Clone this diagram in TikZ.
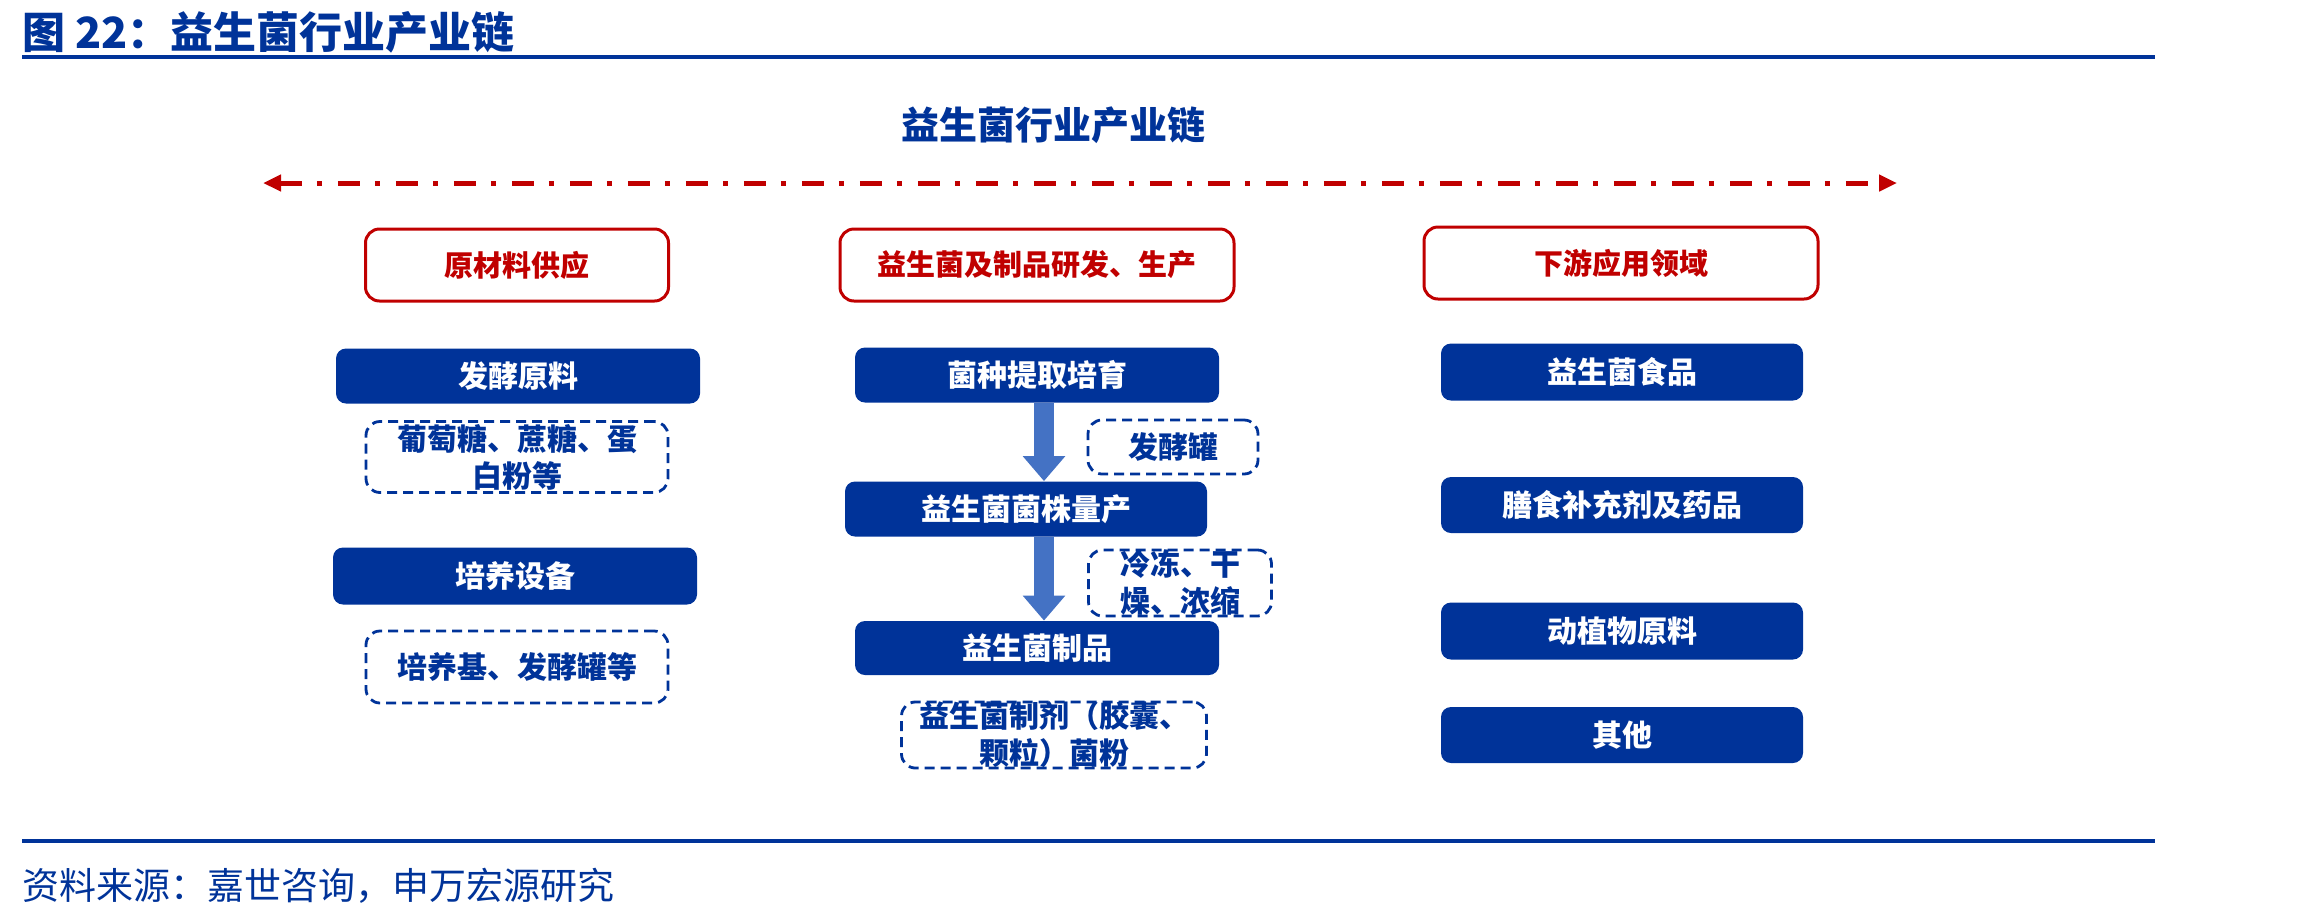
\documentclass[tikz,border=0pt]{standalone}
\usepackage{fontspec}
\setmainfont{Noto Sans CJK SC}
\usetikzlibrary{arrows.meta,calc}
\definecolor{myblue}{RGB}{0,51,153}
\definecolor{myred}{RGB}{192,0,0}
\definecolor{arrblue}{RGB}{68,114,196}
\tikzset{
  bluebox/.style={fill=myblue, rounded corners=5pt, text=white, font=\bfseries\fontsize{15}{18}\selectfont, minimum width=182pt, minimum height=27.5pt, inner sep=0pt},
  hdrbox/.style={draw=myred, line width=1.5pt, rounded corners=7pt, text=myred, font=\bfseries\fontsize{14.5}{17}\selectfont, minimum height=36pt, inner sep=0pt},
  dashbox/.style={draw=myblue, line width=1.4pt, dash pattern=on 5pt off 3pt, rounded corners=7pt, text=myblue, font=\bfseries\fontsize{15}{18.5}\selectfont, align=center, inner sep=0pt},
  blockarrow/.style={draw=arrblue, line width=10pt, -{Triangle[length=12.5pt,width=20.5pt]}},
  chainarrow/.style={draw=myred, line width=2.5pt, dash pattern=on 11pt off 7.5pt on 2.5pt off 8pt, {Triangle[length=9pt,width=8pt]}-{Triangle[length=9pt,width=8pt]}},
  rule/.style={draw=myblue, line width=2pt}
}
\begin{document}
\begin{tikzpicture}[x=0.5pt,y=-0.5pt]
\useasboundingbox (0,0) rectangle (2314,917);
% title and rules
\node[anchor=west, inner sep=0pt, text=myblue, font=\bfseries\fontsize{21.5}{24}\selectfont] (title) at (22,32) {图 22：益生菌行业产业链};
\draw[rule] (22,57) -- (2155,57);
\draw[rule] (22,841) -- (2155,841);
\node[anchor=west, inner sep=0pt, text=myblue, font=\fontsize{18.5}{22}\selectfont] (src) at (22,886) {资料来源：嘉世咨询，申万宏源研究};
% subtitle
\node[text=myblue, font=\bfseries\fontsize{19}{22}\selectfont, inner sep=0pt] (sub) at (1053,125) {益生菌行业产业链};
% chain arrow
\coordinate (aL) at (263,183);
\coordinate (aR) at (1897,183);
\draw[chainarrow] (aL) -- (aR);
% headers
\node[hdrbox, minimum width=151.5pt] (hA) at (517,265) {原材料供应};
\node[hdrbox, minimum width=197pt] (hB) at (1037,265) {益生菌及制品研发、生产};
\node[hdrbox, minimum width=197pt] (hC) at (1621,263) {下游应用领域};
% left column
\node[bluebox] (l1) at (518,376) {发酵原料};
\node[dashbox, minimum width=151pt, minimum height=35.5pt] (d1) at (517,457) {葡萄糖、蔗糖、蛋\\白粉等};
\node[bluebox, minimum height=28.5pt] (l2) at (515,576) {培养设备};
\node[dashbox, minimum width=151pt, minimum height=36pt] (d2) at (517,667) {培养基、发酵罐等};
% middle column
\node[bluebox] (m1) at (1037,375) {菌种提取培育};
\node[bluebox, minimum width=181pt] (m2) at (1026,509) {益生菌菌株量产};
\node[bluebox, minimum height=27pt] (m3) at (1037,648) {益生菌制品};
\node[dashbox, minimum width=85pt, minimum height=27pt] (dm1) at (1173,447) {发酵罐};
\node[dashbox, minimum width=91.5pt, minimum height=33pt] (dm2) at (1180,583) {冷冻、干\\燥、浓缩};
\node[dashbox, minimum width=152.5pt, minimum height=33pt] (dm3) at (1054,735) {益生菌制剂（胶囊、\\颗粒）菌粉};
\coordinate (ax) at (1044,0);
\draw[blockarrow] (m1.south -| ax) -- (m2.north -| ax);
\draw[blockarrow] (m2.south -| ax) -- (m3.north -| ax);
% right column
\node[bluebox, minimum width=181pt, minimum height=28.5pt] (r1) at (1622,372) {益生菌食品};
\node[bluebox, minimum width=181pt, minimum height=28pt] (r2) at (1622,505) {膳食补充剂及药品};
\node[bluebox, minimum width=181pt, minimum height=28.5pt] (r3) at (1622,631) {动植物原料};
\node[bluebox, minimum width=181pt, minimum height=28pt] (r4) at (1622,735) {其他};
\end{tikzpicture}
\end{document}
